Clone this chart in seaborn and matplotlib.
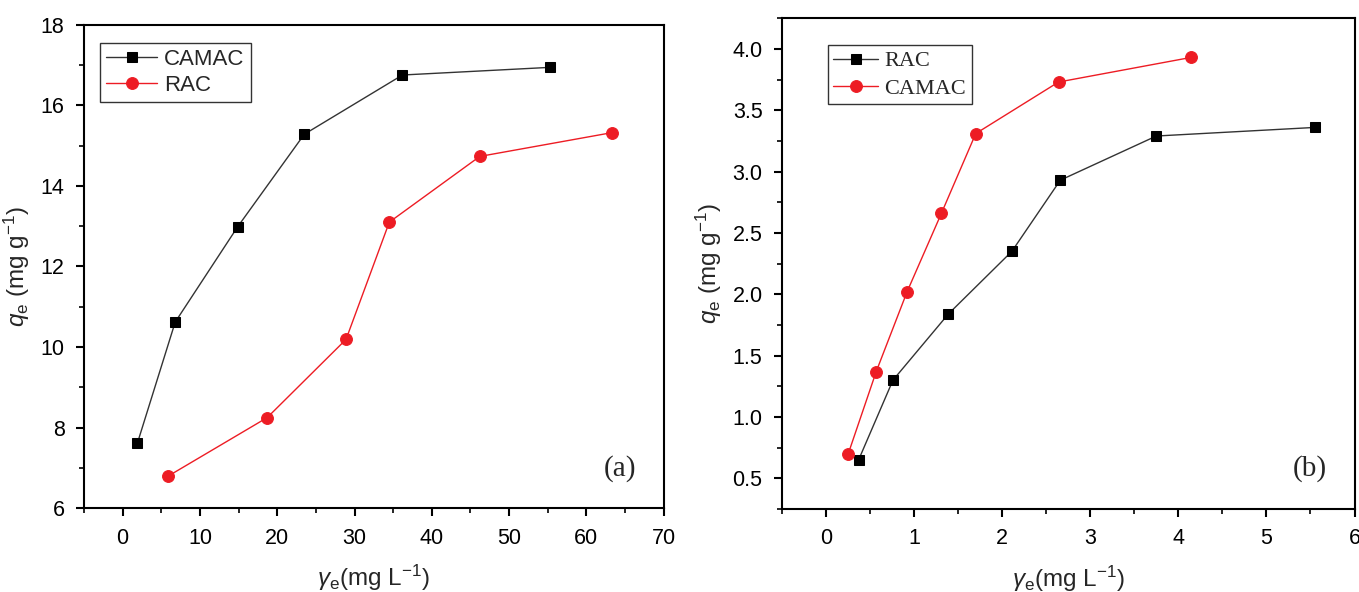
import matplotlib
matplotlib.use("Agg")
import matplotlib.pyplot as plt
import seaborn as sns
import pandas as pd
from matplotlib.ticker import MultipleLocator

# ---- data (a) ----
a_camac_x = [1.9, 6.8, 14.9, 23.5, 36.2, 55.3]
a_camac_y = [7.61, 10.62, 12.99, 15.28, 16.75, 16.94]
a_rac_x = [5.9, 18.7, 28.9, 34.5, 46.2, 63.3]
a_rac_y = [6.80, 8.25, 10.19, 13.10, 14.73, 15.32]

# ---- data (b) ----
b_rac_x = [0.37, 0.76, 1.39, 2.11, 2.66, 3.75, 5.55]
b_rac_y = [0.65, 1.30, 1.84, 2.35, 2.93, 3.29, 3.36]
b_camac_x = [0.25, 0.57, 0.92, 1.31, 1.70, 2.64, 4.14]
b_camac_y = [0.695, 1.37, 2.02, 2.66, 3.31, 3.73, 3.93]

RED = "#ED1C24"
BLACK = "#000000"

sns.set_theme(style="white")
plt.rcParams['font.family'] = ['Liberation Sans', 'DejaVu Sans']
plt.rcParams['mathtext.fontset'] = 'custom'
plt.rcParams['mathtext.rm'] = 'Liberation Sans'
plt.rcParams['mathtext.it'] = 'Liberation Sans:italic'

fig = plt.figure(figsize=(13.59, 5.92), dpi=100)
ax1 = fig.add_axes([0.0618, 0.1414, 0.4266, 0.817])
ax2 = fig.add_axes([0.5754, 0.1402, 0.4213, 0.829])

def line(ax, x, y, marker, color, label, ms, lc):
    df = pd.DataFrame({"x": x, "y": y})
    sns.lineplot(data=df, x="x", y="y", ax=ax, sort=False, marker=marker,
                 color=lc, markerfacecolor=color, markeredgecolor=color,
                 markersize=ms, linewidth=1.0, label=label)

line(ax1, a_camac_x, a_camac_y, 's', BLACK, 'CAMAC', 7.5, '#333333')
line(ax1, a_rac_x, a_rac_y, 'o', RED, 'RAC', 8.5, RED)
line(ax2, b_rac_x, b_rac_y, 's', BLACK, 'RAC', 7.5, '#333333')
line(ax2, b_camac_x, b_camac_y, 'o', RED, 'CAMAC', 8.5, RED)

ax1.set_xlim(-5, 70)
ax1.set_ylim(6, 18)
ax1.xaxis.set_major_locator(MultipleLocator(10))
ax1.xaxis.set_minor_locator(MultipleLocator(5))
ax1.yaxis.set_major_locator(MultipleLocator(2))
ax1.yaxis.set_minor_locator(MultipleLocator(1))

ax2.set_xlim(-0.5, 6)
ax2.set_ylim(0.25, 4.25)
ax2.xaxis.set_major_locator(MultipleLocator(1))
ax2.xaxis.set_minor_locator(MultipleLocator(0.5))
ax2.yaxis.set_major_locator(MultipleLocator(0.5))
ax2.yaxis.set_minor_locator(MultipleLocator(0.25))
ax2.yaxis.set_major_formatter(matplotlib.ticker.FormatStrFormatter('%.1f'))

for ax in (ax1, ax2):
    for s in ax.spines.values():
        s.set_color('black')
        s.set_linewidth(1.5)
    ax.tick_params(which='major', direction='out', length=6, width=1.5,
                   labelsize=15.5, bottom=True, left=True, top=False, right=False,
                   colors='black', pad=8)
    ax.tick_params(which='minor', direction='out', length=3.5, width=1.2,
                   bottom=True, left=True, top=False, right=False, colors='black')
    ax.set_xlabel(r'$\gamma_\mathrm{e}$(mg L$^{-1}$)', fontsize=17.5, labelpad=10)
    ax.set_ylabel(r'$q_\mathrm{e}$ (mg g$^{-1}$)', fontsize=17.5, labelpad=6)
    ax.grid(False)

leg1 = ax1.legend(loc='upper left', bbox_to_anchor=(0.027, 0.963), fontsize=16,
                  frameon=True, fancybox=False, edgecolor='black', handlelength=2.3,
                  borderpad=0.3, labelspacing=0.2, handletextpad=0.3, borderaxespad=0)
leg1.get_frame().set_linewidth(1.0)

leg2 = ax2.legend(loc='upper left', bbox_to_anchor=(0.08, 0.945),
                  prop={'family': 'Liberation Serif', 'size': 16},
                  frameon=True, fancybox=False, edgecolor='black', handlelength=2.0,
                  borderpad=0.25, labelspacing=0.3, handletextpad=0.3, borderaxespad=0)
leg2.get_frame().set_linewidth(1.0)

ax1.text(0.925, 0.083, '(a)', transform=ax1.transAxes, ha='center', va='center',
         fontsize=21, family='Liberation Serif')
ax2.text(0.922, 0.083, '(b)', transform=ax2.transAxes, ha='center', va='center',
         fontsize=21, family='Liberation Serif')

fig.savefig('out.png', dpi=100, facecolor='white')
